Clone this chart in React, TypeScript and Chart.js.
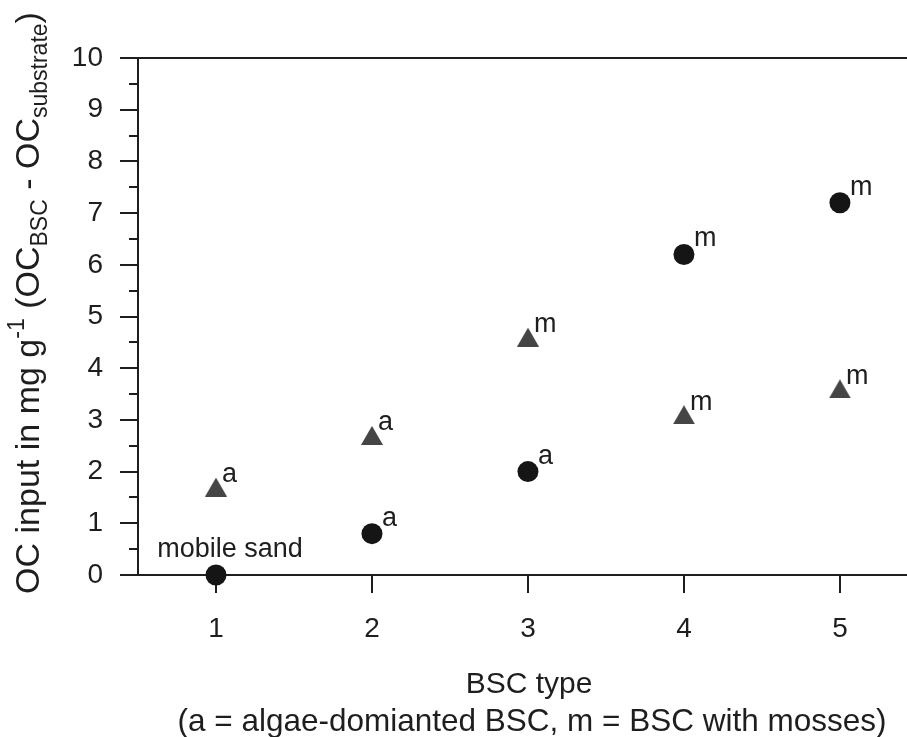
import React, { useEffect, useRef } from "react";
import { Chart, registerables } from "chart.js";

Chart.register(...registerables);

const categories = [1, 2, 3, 4, 5];
const circleValues = [0, 0.8, 2.0, 6.2, 7.2];
const triangleValues = [1.7, 2.7, 4.6, 3.1, 3.6];
const circleLabels = ["mobile sand", "a", "a", "m", "m"];
const triangleLabels = ["a", "a", "m", "m", "m"];
const yTickValues = [0, 1, 2, 3, 4, 5, 6, 7, 8, 9, 10];
const yMinorTickValues = [0.5, 1.5, 2.5, 3.5, 4.5, 5.5, 6.5, 7.5, 8.5, 9.5];
const xTitleLines = ["BSC type", "(a = algae-domianted BSC, m = BSC with mosses)"];

const FONT = "'Liberation Sans', Arial, sans-serif";
const INK = "#1e1e1e";

function makeTriangle(): HTMLCanvasElement {
  const c = document.createElement("canvas");
  c.width = 22;
  c.height = 19;
  const g = c.getContext("2d")!;
  g.fillStyle = "#454545";
  g.beginPath();
  g.moveTo(11, 0);
  g.lineTo(22, 19);
  g.lineTo(0, 19);
  g.closePath();
  g.fill();
  return c;
}

const decorPlugin = {
  id: "decor",
  afterDraw(chart: any) {
    const { ctx, chartArea } = chart;
    const ys = chart.scales.y;
    ctx.save();
    ctx.strokeStyle = INK;
    ctx.lineWidth = 2;
    yMinorTickValues.forEach((v) => {
      const py = Math.round(ys.getPixelForValue(v));
      ctx.beginPath();
      ctx.moveTo(chartArea.left - 9, py);
      ctx.lineTo(chartArea.left, py);
      ctx.stroke();
    });
    ctx.beginPath();
    ctx.moveTo(chartArea.left, chartArea.top);
    ctx.lineTo(chartArea.right, chartArea.top);
    ctx.stroke();

    ctx.fillStyle = INK;
    ctx.textBaseline = "alphabetic";
    const circleMeta = chart.getDatasetMeta(0);
    const triMeta = chart.getDatasetMeta(1);
    ctx.font = `27px ${FONT}`;
    circleMeta.data.forEach((pt: any, i: number) => {
      const lbl = circleLabels[i];
      if (lbl === "mobile sand") {
        ctx.textAlign = "center";
        ctx.fillText(lbl, pt.x + 14, pt.y - 18);
      } else {
        ctx.textAlign = "left";
        ctx.fillText(lbl, pt.x + 10, pt.y - 8);
      }
    });
    triMeta.data.forEach((pt: any, i: number) => {
      ctx.textAlign = "left";
      ctx.fillText(triangleLabels[i], pt.x + 6, pt.y - 5);
    });

    ctx.textAlign = "center";
    ctx.font = `30px ${FONT}`;
    ctx.fillText(xTitleLines[0], 529, 693);
    ctx.font = `31.5px ${FONT}`;
    ctx.fillText(xTitleLines[1], 532, 731);

    const big = 34;
    const small = 23;
    const parts: { t: string; s: "n" | "sup" | "sub" }[] = [
      { t: "OC input in mg g", s: "n" },
      { t: "-1", s: "sup" },
      { t: " (OC", s: "n" },
      { t: "BSC", s: "sub" },
      { t: " - OC", s: "n" },
      { t: "substrate", s: "sub" },
      { t: ")", s: "n" },
    ];
    let total = 0;
    const widths = parts.map((p) => {
      ctx.font = `${p.s === "n" ? big : small}px ${FONT}`;
      const w = ctx.measureText(p.t).width;
      total += w;
      return w;
    });
    ctx.translate(39, 303);
    ctx.rotate(-Math.PI / 2);
    ctx.textAlign = "left";
    let x = -total / 2;
    parts.forEach((p, i) => {
      ctx.font = `${p.s === "n" ? big : small}px ${FONT}`;
      const dy = p.s === "sup" ? -15 : p.s === "sub" ? 8 : 0;
      ctx.fillText(p.t, x, dy);
      x += widths[i];
    });
    ctx.restore();
  },
};

export default function App() {
  const ref = useRef<HTMLCanvasElement | null>(null);
  useEffect(() => {
    if (!ref.current) return;
    const tri = makeTriangle();
    const chart = new Chart(ref.current, {
      type: "scatter",
      data: {
        datasets: [
          {
            label: "circles",
            data: categories.map((c, i) => ({ x: c, y: circleValues[i] })),
            pointStyle: "circle",
            pointRadius: 10.5,
            pointHoverRadius: 10.5,
            backgroundColor: "#151515",
            borderColor: "#151515",
            borderWidth: 0,
            clip: false as any,
          },
          {
            label: "triangles",
            data: categories.map((c, i) => ({ x: c, y: triangleValues[i] })),
            pointStyle: tri as any,
            pointRadius: 11,
            pointHoverRadius: 11,
            backgroundColor: "#444444",
            borderColor: "#444444",
            borderWidth: 0,
            clip: false as any,
          },
        ],
      },
      options: {
        animation: false,
        responsive: false,
        maintainAspectRatio: false,
        events: [],
        layout: { autoPadding: false, padding: { top: 58, right: 0, left: 0, bottom: 0 } },
        plugins: {
          legend: { display: false },
          tooltip: { enabled: false },
          title: { display: false },
        },
        scales: {
          x: {
            type: "linear",
            min: 0.5,
            max: 5.43,
            afterFit: (s: any) => {
              s.height = 162;
              s.paddingLeft = 0;
              s.paddingRight = 0;
            },
            afterBuildTicks: (s: any) => {
              s.ticks = categories.map((v) => ({ value: v }));
            },
            grid: {
              display: true,
              drawOnChartArea: false,
              drawTicks: true,
              tickLength: 18,
              color: INK,
              lineWidth: 2,
            },
            border: { display: true, color: INK, width: 2 },
            ticks: {
              color: INK,
              font: { family: FONT, size: 28 },
              padding: 19,
              maxRotation: 0,
              autoSkip: false,
            },
          },
          y: {
            type: "linear",
            min: 0,
            max: 10,
            afterFit: (s: any) => {
              s.width = 138;
              s.paddingTop = 0;
              s.paddingBottom = 0;
            },
            afterBuildTicks: (s: any) => {
              s.ticks = yTickValues.map((v) => ({ value: v }));
            },
            grid: {
              display: true,
              drawOnChartArea: false,
              drawTicks: true,
              tickLength: 18,
              color: INK,
              lineWidth: 2,
            },
            border: { display: true, color: INK, width: 2 },
            ticks: {
              color: INK,
              font: { family: FONT, size: 28 },
              padding: 17,
              autoSkip: false,
            },
          },
        },
      },
      plugins: [decorPlugin],
    });
    return () => chart.destroy();
  }, []);
  return (
    <div style={{ position: "absolute", left: 0, top: 0, width: 907, height: 737, background: "#fff" }}>
      <canvas ref={ref} width={907} height={737} style={{ display: "block", width: 907, height: 737 }} />
    </div>
  );
}
